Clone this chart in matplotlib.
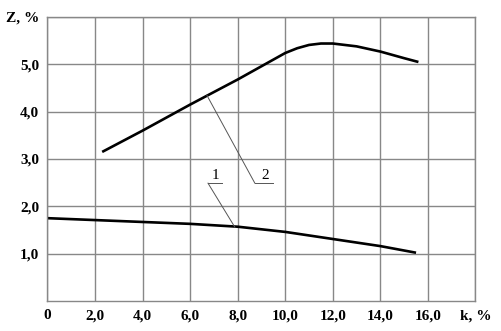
import matplotlib
matplotlib.use("Agg")
from matplotlib import pyplot as plt

plt.rcParams['font.family'] = ['Liberation Serif', 'DejaVu Serif']

# curve 1 (lower)
k1 = [0.0, 2.0, 4.0, 6.0, 8.0, 10.0, 12.0, 14.0, 15.5]
z1 = [1.75, 1.71, 1.67, 1.63, 1.57, 1.46, 1.31, 1.16, 1.02]

# curve 2 (upper)
k2 = [2.3, 4.0, 6.0, 8.0, 9.0, 10.0, 10.5, 11.0, 11.5, 12.0, 13.0, 14.0, 15.0, 15.6]
z2 = [3.15, 3.60, 4.15, 4.68, 4.96, 5.24, 5.34, 5.41, 5.44, 5.44, 5.38, 5.27, 5.13, 5.05]

xticks = [0, 2, 4, 6, 8, 10, 12, 14, 16, 18]
xlabels = ["0", "2,0", "4,0", "6,0", "8,0", "10,0", "12,0", "14,0", "16,0", "k, %"]
yticks = [1, 2, 3, 4, 5, 6]
ylabels = ["1,0", "2,0", "3,0", "4,0", "5,0", "Z, %"]

fig = plt.figure(figsize=(5.02, 3.31), dpi=100)
ax = fig.add_axes([0.0946, 0.0906, 0.8526, 0.858])

ax.plot(k1, z1, color="black", lw=1.9, solid_capstyle="butt")
ax.plot(k2, z2, color="black", lw=1.9, solid_capstyle="butt")

# leader lines with labels
ax.plot([6.75, 7.88], [2.49, 1.56], color="#555555", lw=0.7)
ax.plot([6.75, 7.35], [2.49, 2.49], color="#555555", lw=0.7)
ax.text(7.05, 2.52, "1", fontsize=11, ha="center", va="bottom")

ax.plot([6.7, 8.72], [4.35, 2.49], color="#555555", lw=0.7)
ax.plot([8.72, 9.5], [2.49, 2.49], color="#555555", lw=0.7)
ax.text(9.15, 2.52, "2", fontsize=11, ha="center", va="bottom")

ax.set_xlim(0, 18)
ax.set_ylim(0, 6)
ax.set_xticks(xticks)
ax.set_xticklabels(xlabels, fontsize=11, fontweight="bold")
ax.set_yticks(yticks)
ax.set_yticklabels(ylabels, fontsize=11, fontweight="bold")
ax.tick_params(length=0, pad=6)
ax.grid(True, color="#888888", lw=1.0)
for s in ax.spines.values():
    s.set_color("#888888")
    s.set_linewidth(1.0)

fig.savefig("out.png", dpi=100)
